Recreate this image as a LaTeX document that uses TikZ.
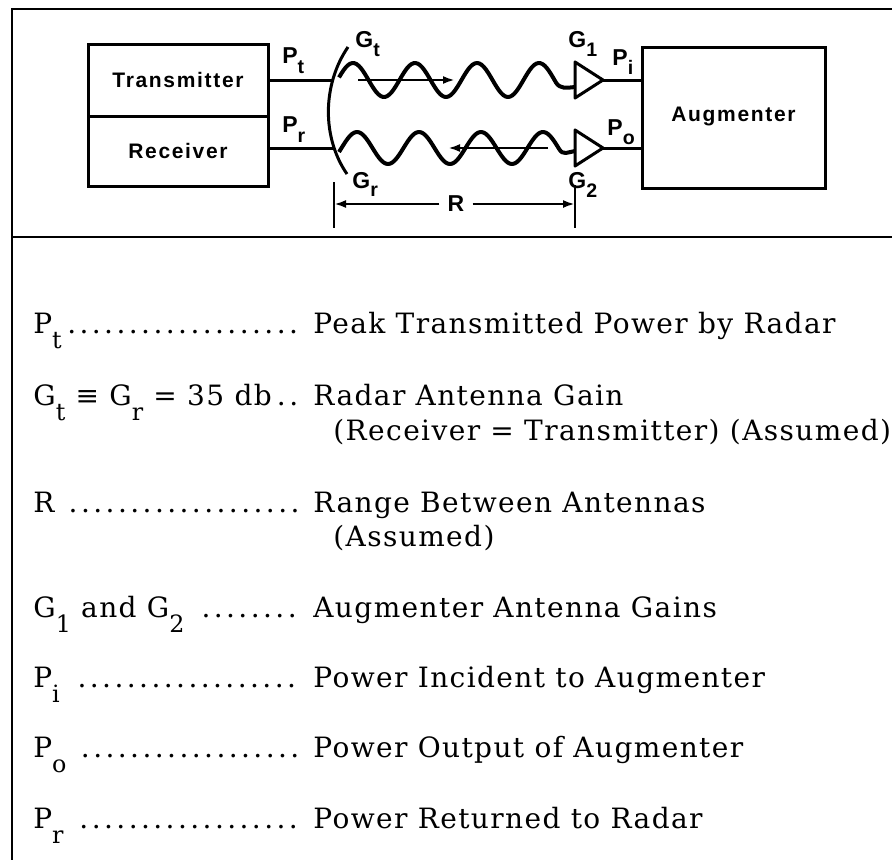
\documentclass[tikz,border=0pt]{standalone}
\usepackage{fontspec}
\usepackage{graphicx}
\usetikzlibrary{arrows.meta}
\newfontfamily\blockfont[LetterSpace=8]{Liberation Sans}
\newfontfamily\listfont[LetterSpace=5]{DejaVu Serif}
\newcommand\lowsub[2][.55em]{\raisebox{-#1}{\scalebox{.85}{#2}}}
\tikzset{
  unitbox/.style={draw,line width=1.5pt,inner sep=0pt,outer sep=0pt,
    font=\blockfont\bfseries\fontsize{10.5}{12}\selectfont},
  tag/.style={inner sep=0pt,anchor=base west,
    font=\blockfont\bfseries\fontsize{11.5}{13}\selectfont},
  term/.style={inner sep=0pt,anchor=base west,
    font=\listfont\fontsize{14}{17}\selectfont},
  wire/.style={line width=1.5pt},
  wave/.style={line width=2pt,line join=round},
  ray/.style={line width=1.2pt,-{Latex[length=6pt,width=4pt]}},
}
\begin{document}
\begin{tikzpicture}[x=0.5pt,y=-0.5pt]
\useasboundingbox (0,0) rectangle (892,862);

% frame
\draw[line width=1pt] (892,9) -- (12,9) -- (12,860);
\draw[line width=1pt] (12,237) -- (892,237);

% radar and augmenter
\node[unitbox,minimum width=90pt,minimum height=36pt] (tx) at (178,80) {Transmitter};
\node[unitbox,minimum width=90pt,minimum height=35pt,anchor=north] (rx) at (tx.south) {Receiver};
\node[unitbox,minimum width=91.5pt,minimum height=70.5pt] (aug) at (733.5,117.5) {\raisebox{3.5pt}{Augmenter}};

% radar dish
\coordinate (dishT) at (348,47);
\coordinate (dishB) at (347,174);
\coordinate (feedT) at (333,80);
\coordinate (feedR) at (334,148);
\draw[wire] (dishT) .. controls (322,85) and (322,138) .. (dishB);
\draw[wire] (tx.east) -- (feedT);
\draw[wire] (feedR -| rx.east) -- (feedR);

% augmenter antennas
\coordinate (g1tip) at (603,80);
\coordinate (g2tip) at (603,148);
\draw[wire,line join=round] (575,62) -- (g1tip) -- (575,98) -- cycle;
\draw[wire,line join=round] (575,130) -- (g2tip) -- (575,166) -- cycle;
\draw[wire] (g1tip) -- (g1tip -| aug.west);
\draw[wire] (g2tip) -- (g2tip -| aug.west);

% waves
\draw[wave] plot[domain=339:556,samples=100] (\x,{80-17*cos(5.80645*(\x-353))})
  .. controls (560,89) and (566,88) .. (575,87);
\draw[wave] plot[domain=339:559,samples=100] (\x,{148-16*cos(5.80645*(\x-357))})
  .. controls (563,156) and (568,152) .. (575,151);
\coordinate (upA) at (358,80);
\coordinate (upB) at (455,80);
\coordinate (dnA) at (548,148);
\coordinate (dnB) at (448,148);
\draw[ray] (upA) -- (upB);
\draw[ray] (dnA) -- (dnB);

% range
\coordinate (rL1) at (334,182);
\coordinate (rL2) at (334,228);
\coordinate (rR1) at (575,185);
\coordinate (rR2) at (575,228);
\draw[line width=1pt] (rL1) -- (rL2);
\draw[line width=1pt] (rR1) -- (rR2);
\node[tag,anchor=center] (R) at (456,204) {R};
\draw[ray,shorten <=4pt] (R.west) -- (R -| rL1);
\draw[ray,shorten <=4pt] (R.east) -- (R -| rR1);

% labels
\node[tag] (Pt) at (282,63) {P\lowsub[.45em]{t}};
\node[tag] (Pr) at (282,132) {P\lowsub[.45em]{r}};
\node[tag] (Gt) at (355,47) {G\lowsub[.4em]{t}};
\node[tag] (Gr) at (352,188) {G\lowsub[.35em]{r}};
\node[tag] (G1) at (568,47) {G\lowsub[.4em]{1}};
\node[tag] (Pi) at (612,65) {P\lowsub[.4em]{i}};
\node[tag] (Po) at (607,135) {P\lowsub[.4em]{o}};
\node[tag] (G2) at (568,188) {G\lowsub[.4em]{2}};

% list
\node[term] (tPt) at (33,333) {\makebox[135pt][l]{P\lowsub{t}\dotfill}};
\node[term] (dPt) at (313,333) {Peak Transmitted Power by Radar};
\node[term] (tG) at (33,405) {\makebox[135pt][l]{G\lowsub{t} ≡ G\lowsub{r} = 35 db\dotfill}};
\node[term] (dG) at (313,405) {Radar Antenna Gain};
\node[term] (dG2) at (333,440) {(Receiver = Transmitter) (Assumed)};
\node[term] (tR) at (33,512) {\makebox[135pt][l]{R \dotfill}};
\node[term] (dR) at (313,512) {Range Between Antennas};
\node[term] (dR2) at (333,546) {(Assumed)};
\node[term] (tG12) at (33,617) {\makebox[135pt][l]{G\lowsub{1} and G\lowsub{2} \dotfill}};
\node[term] (dG12) at (313,617) {Augmenter Antenna Gains};
\node[term] (tPi) at (33,687) {\makebox[135pt][l]{P\lowsub{i} \dotfill}};
\node[term] (dPi) at (313,687) {Power Incident to Augmenter};
\node[term] (tPo) at (33,757) {\makebox[135pt][l]{P\lowsub{o} \dotfill}};
\node[term] (dPo) at (313,757) {Power Output of Augmenter};
\node[term] (tPr) at (33,828) {\makebox[135pt][l]{P\lowsub{r} \dotfill}};
\node[term] (dPr) at (313,828) {Power Returned to Radar};
\end{tikzpicture}
\end{document}
